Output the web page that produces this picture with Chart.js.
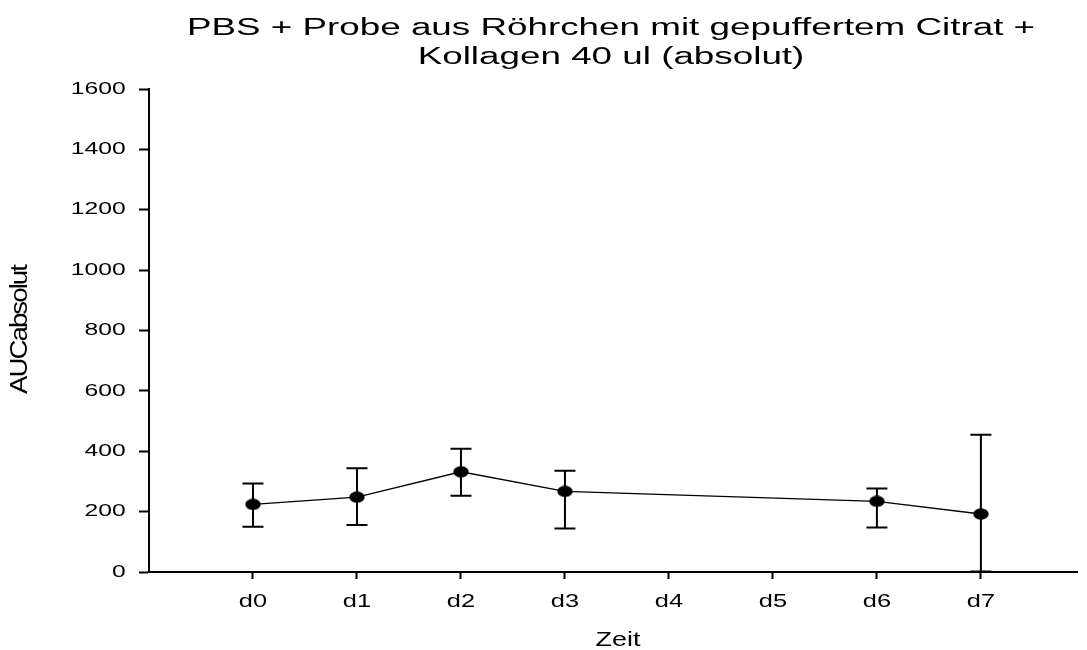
<!DOCTYPE html>
<html>
<head>
<meta charset="utf-8">
<script src="https://cdn.jsdelivr.net/npm/chart.js@4/dist/chart.umd.min.js"></script>
<style>
  html, body { margin: 0; padding: 0; background: #fff; }
  #wrap { width: 1087px; height: 650px; }
</style>
</head>
<body>
<div id="wrap"><canvas id="c" width="1087" height="650"></canvas></div>
<script>
// Days on the time axis
const categories = ['d0', 'd1', 'd2', 'd3', 'd4', 'd5', 'd6', 'd7'];
// AUC (absolute) per day, with lower / upper whisker ends (null = not measured)
const aucValues = [224, 248, 332, 267, null, null, 234, 192];
const aucLower  = [150, 156, 253, 144, null, null, 147, 2];
const aucUpper  = [293, 344, 408, 335, null, null, 277, 455];

const titleLines = ['PBS + Probe aus Röhrchen mit gepuffertem Citrat +', 'Kollagen 40 ul (absolut)'];
const xTitle = 'Zeit';
const yTitle = 'AUCabsolut';

const FONT = '"Liberation Sans", Arial, sans-serif';

// Filled, horizontally wide marker
function makeMarker(w, h) {
  const cv = document.createElement('canvas');
  cv.width = w; cv.height = h;
  const g = cv.getContext('2d');
  g.fillStyle = '#000';
  g.beginPath();
  g.ellipse(w / 2, h / 2, w / 2 - 0.3, h / 2 - 0.3, 0, 0, Math.PI * 2);
  g.fill();
  return cv;
}
const marker = makeMarker(16, 12);

const points = [];
categories.forEach((c, i) => {
  if (aucValues[i] !== null) points.push({ x: i, y: aucValues[i], lo: aucLower[i], hi: aucUpper[i] });
});

// Whiskers with caps, drawn under the markers
const errorBars = {
  id: 'errorBars',
  beforeDatasetsDraw(chart) {
    const { ctx, scales: { x, y } } = chart;
    ctx.save();
    ctx.strokeStyle = '#000';
    ctx.lineWidth = 2;
    points.forEach(p => {
      const px = x.getPixelForValue(p.x);
      const yl = y.getPixelForValue(p.lo);
      const yh = y.getPixelForValue(p.hi);
      ctx.beginPath();
      ctx.moveTo(px, yl); ctx.lineTo(px, yh);
      ctx.moveTo(px - 10.5, yl); ctx.lineTo(px + 10.5, yl);
      ctx.moveTo(px - 10.5, yh); ctx.lineTo(px + 10.5, yh);
      ctx.stroke();
    });
    ctx.restore();
  }
};

// Text is drawn wide (horizontal scale) like the rest of the figure
function wideText(ctx, text, x, y, size, sx, align, baseline) {
  ctx.save();
  ctx.font = size + 'px ' + FONT;
  ctx.textAlign = align;
  ctx.textBaseline = baseline;
  ctx.fillStyle = '#000';
  ctx.translate(x, y);
  ctx.scale(sx, 1);
  ctx.fillText(text, 0, 0);
  ctx.restore();
}

const labels = {
  id: 'labels',
  afterDraw(chart) {
    const { ctx, scales: { x, y } } = chart;
    // title
    wideText(ctx, titleLines[0], 611, 34.5, 23, 1.6, 'center', 'alphabetic');
    wideText(ctx, titleLines[1], 611, 63.5, 23, 1.6, 'center', 'alphabetic');
    // y tick labels
    y.ticks.forEach((t, i) => {
      wideText(ctx, String(t.value), 125.7, y.getPixelForTick(i), 17, 1.45, 'right', 'middle');
    });
    // x tick labels
    x.ticks.forEach((t, i) => {
      wideText(ctx, categories[t.value], x.getPixelForTick(i), 606.5, 17.5, 1.45, 'center', 'alphabetic');
    });
    // axis titles
    wideText(ctx, xTitle, 618, 646, 19.5, 1.38, 'center', 'alphabetic');
    ctx.save();
    ctx.font = '23px ' + FONT;
    ctx.fillStyle = '#000';
    ctx.textAlign = 'center';
    ctx.textBaseline = 'middle';
    if ('letterSpacing' in ctx) ctx.letterSpacing = '-1.6px';
    ctx.translate(21, 330);
    ctx.rotate(-Math.PI / 2);
    ctx.scale(1.2, 1);
    ctx.fillText(yTitle, 0, 0);
    ctx.restore();
  }
};

new Chart(document.getElementById('c'), {
  type: 'line',
  data: {
    datasets: [{
      data: points,
      borderColor: '#000',
      borderWidth: 1.4,
      pointStyle: marker,
      pointRadius: 8,
      pointHoverRadius: 8,
      tension: 0,
      fill: false
    }]
  },
  options: {
    responsive: false,
    animation: false,
    devicePixelRatio: 1,
    layout: { padding: { top: 89, right: 0, bottom: 0, left: 0 } },
    plugins: { legend: { display: false }, title: { display: false }, tooltip: { enabled: false } },
    scales: {
      x: {
        type: 'linear',
        min: -1,
        max: 7.93,
        afterBuildTicks(scale) { scale.ticks = categories.map((c, i) => ({ value: i })); },
        afterFit(scale) { scale.height = 78; },
        ticks: { display: false },
        grid: { drawOnChartArea: false, drawTicks: true, tickLength: 7, tickWidth: 2, tickColor: '#000' },
        border: { display: true, color: '#000', width: 2 }
      },
      y: {
        min: 0,
        max: 1600,
        ticks: { display: false, stepSize: 200 },
        afterFit(scale) { scale.width = 149; },
        grid: { drawOnChartArea: false, drawTicks: true, tickLength: 10, tickWidth: 2, tickColor: '#000' },
        border: { display: true, color: '#000', width: 2 }
      }
    }
  },
  plugins: [errorBars, labels]
});
</script>
</body>
</html>
